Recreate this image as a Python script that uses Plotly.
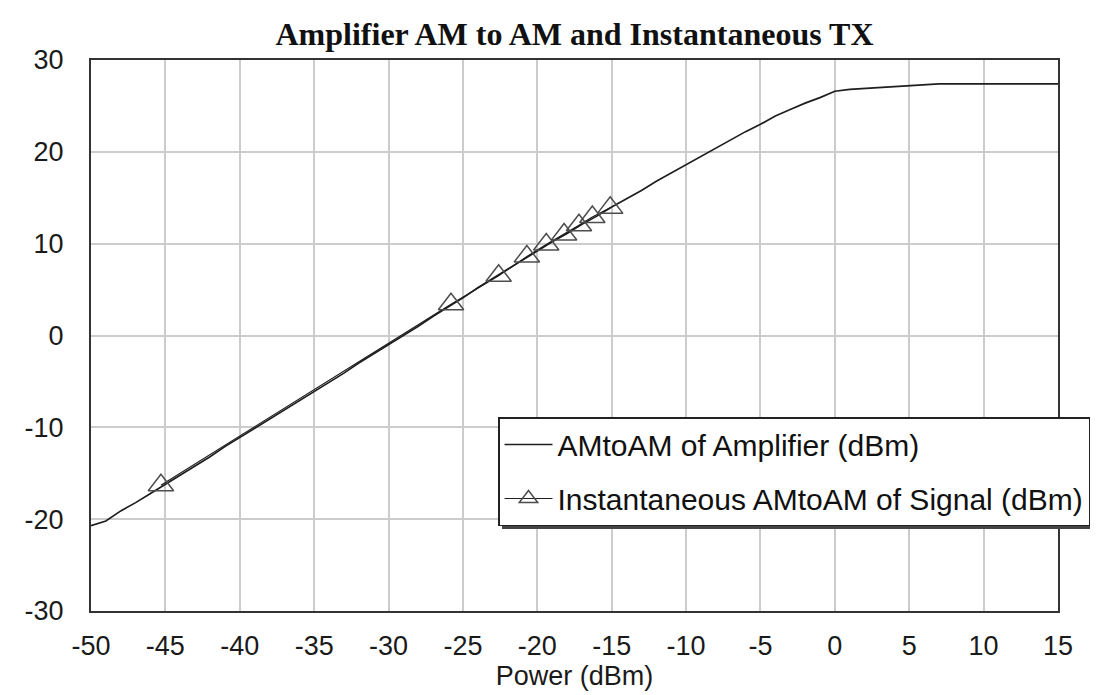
import plotly.graph_objects as go

# AM-to-AM curve of the amplifier
power_in = [-50, -49, -48, -47, -46, -45, -44, -43, -42, -41, -40, -39, -38, -37, -36,
            -35, -34, -33, -32, -31, -30, -29, -28, -27, -26, -25, -24, -23, -22, -21,
            -20, -19, -18, -17, -16, -15, -14, -13, -12, -11, -10, -9, -8, -7, -6,
            -5, -4, -3, -2, -1, 0, 1, 2, 3, 4, 5, 6, 7, 8, 9, 10, 11, 12, 13, 14, 15]
amp_out = [-20.7, -20.2, -19.1, -18.2, -17.2, -16.2, -15.2, -14.2, -13.2, -12.1, -11.1, -10.1, -9.1, -8.1, -7.1,
           -6.1, -5.1, -4.1, -3.0, -2.0, -1.0, 0.0, 1.0, 2.1, 3.1, 4.1, 5.2, 6.2, 7.2, 8.2,
           9.2, 10.2, 11.1, 12.1, 13.0, 14.0, 14.9, 15.8, 16.8, 17.7, 18.6, 19.5, 20.4, 21.3, 22.2,
           23.0, 23.9, 24.6, 25.3, 25.9, 26.6, 26.8, 26.9, 27.0, 27.1, 27.2, 27.3, 27.4, 27.4, 27.4,
           27.4, 27.4, 27.4, 27.4, 27.4, 27.4]

# Instantaneous AM-to-AM points of the signal
sig_in = [-45.3, -25.8, -22.6, -20.7, -19.4, -18.2, -17.2, -16.3, -15.1]
sig_out = [-16.3, 3.4, 6.5, 8.6, 9.9, 11.0, 12.0, 12.9, 13.9]

x_ticks = list(range(-50, 16, 5))
x_labels = [str(v) for v in x_ticks]
y_ticks = list(range(-30, 31, 10))
y_labels = [str(v) for v in y_ticks]

SANS = "Liberation Sans, Arial, sans-serif"

fig = go.Figure()
fig.add_trace(go.Scatter(
    x=power_in, y=amp_out, mode="lines", name="AMtoAM of Amplifier (dBm)",
    line=dict(color="#1e1e1e", width=1.7), legendgroup="a"))
fig.add_trace(go.Scatter(
    x=sig_in, y=sig_out, mode="lines+markers", name="Instantaneous AMtoAM of Signal (dBm)",
    line=dict(color="#1e1e1e", width=1.2),
    marker=dict(symbol="triangle-up-open", size=22, color="#4d4d4d", line=dict(width=1.5, color="#4d4d4d")),
    legendgroup="b"))

axis_common = dict(showgrid=True, gridcolor="#cccccc", gridwidth=1.5,
                   showline=True, linecolor="#333333", linewidth=2, mirror=True,
                   ticks="", zeroline=False, automargin=False,
                   tickfont=dict(family=SANS, size=27, color="#1a1a1a"))

# plot-area pixel box, used to place the legend and its shadow
L, R, T, B = 83, 1050, 52, 603
def px(xp):
    return (xp - L) / (R - L)
def py(yp):
    return (B - yp) / (B - T)

fig.update_layout(
    width=1098, height=695,
    margin=dict(l=L, r=1098 - R, t=T, b=695 - B),
    paper_bgcolor="white", plot_bgcolor="white",
    title=dict(text="<b>Amplifier AM to AM and Instantaneous TX</b>",
               font=dict(family="Liberation Serif, Times New Roman, serif", size=32, color="#111111"),
               x=0.5, xref="paper", xanchor="center", y=1 - 26 / 695, yref="container", yanchor="middle"),
    xaxis=dict(range=[-50, 15], tickvals=x_ticks, ticktext=x_labels, ticklabelstandoff=10,
               title=dict(text="Power (dBm)", standoff=3,
                          font=dict(family=SANS, size=27, color="#1a1a1a")),
               **axis_common),
    yaxis=dict(range=[-30, 30], tickvals=y_ticks, ticktext=y_labels, ticklabelstandoff=20, **axis_common),
    legend=dict(x=px(490), y=py(409), xanchor="left", yanchor="top",
                bgcolor="white", bordercolor="#222222", borderwidth=1.5,
                font=dict(family=SANS, size=30, color="#111111"),
                tracegroupgap=12, itemwidth=48),
    shapes=[dict(type="rect", xref="paper", yref="paper", layer="above",
                 x0=px(494), x1=px(1096), y0=py(521), y1=py(413),
                 line=dict(width=0), fillcolor="#444444")],
    showlegend=True,
)

fig.write_html("out.html")
